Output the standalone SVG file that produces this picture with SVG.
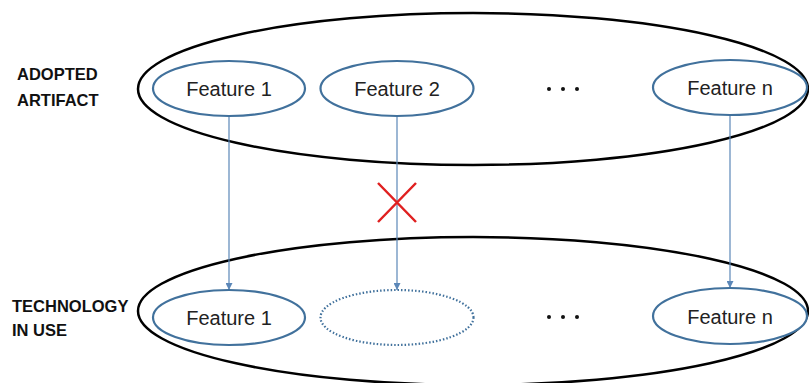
<svg xmlns="http://www.w3.org/2000/svg" width="809" height="383" viewBox="0 0 809 383">
<defs>
<style>
.big{fill:none;stroke:#000;stroke-width:2.5}
.feat{fill:#fff;stroke:#41719c;stroke-width:2.2}
.dotted{fill:#fff;stroke:#41719c;stroke-width:2.2;stroke-dasharray:1.5 2}
.ft{font-family:"Liberation Sans",Arial,sans-serif;font-size:20px;fill:#222;text-anchor:middle}
.lbl{font-family:"Liberation Sans",Arial,sans-serif;font-size:16.5px;font-weight:bold;fill:#111}
.conn{stroke:#5b87b8;stroke-width:1.2;fill:none}
.dot{fill:#111}
</style>
<marker id="arr" viewBox="0 0 10 10" refX="10" refY="5" markerWidth="7" markerHeight="7" markerUnits="userSpaceOnUse" orient="auto">
<path d="M0,0 L10,5 L0,10 z" fill="#5b87b8"/>
</marker>
</defs>
<rect width="809" height="383" fill="#fff"/>

<g id="labels">
<text class="lbl" x="17" y="80">ADOPTED</text>
<text class="lbl" x="17" y="106">ARTIFACT</text>
<text class="lbl" x="12" y="312">TECHNOLOGY</text>
<text class="lbl" x="12" y="336">IN USE</text>
</g>

<g id="adopted-artifact">
<ellipse class="big" cx="473" cy="89" rx="335" ry="76"/>
</g>
<g id="technology-in-use">
<ellipse class="big" cx="473" cy="311" rx="335" ry="74"/>
</g>

<g id="connectors">
<line class="conn" x1="229" y1="116" x2="229" y2="290" marker-end="url(#arr)"/>
<line class="conn" x1="397" y1="116" x2="397" y2="290" marker-end="url(#arr)"/>
<line class="conn" x1="730" y1="115" x2="730" y2="288" marker-end="url(#arr)"/>
</g>

<g id="cross">
<path d="M378,183 L416,222 M416,183 L378,222" stroke="#e02020" stroke-width="2.5" fill="none"/>
</g>

<g id="a-feature1">
<ellipse class="feat" cx="229" cy="88.5" rx="76" ry="27.5"/>
<text class="ft" x="229" y="96">Feature 1</text>
</g>
<g id="a-feature2">
<ellipse class="feat" cx="397" cy="88.5" rx="76.5" ry="27.5"/>
<text class="ft" x="397" y="96">Feature 2</text>
</g>
<g id="a-dots">
<circle class="dot" cx="549" cy="89" r="2"/>
<circle class="dot" cx="563" cy="89" r="2"/>
<circle class="dot" cx="577" cy="89" r="2"/>
</g>
<g id="a-featuren">
<ellipse class="feat" cx="730" cy="87.5" rx="77" ry="27.5"/>
<text class="ft" x="730" y="95">Feature n</text>
</g>

<g id="t-feature1">
<ellipse class="feat" cx="229" cy="317.5" rx="76" ry="27.5"/>
<text class="ft" x="229" y="325">Feature 1</text>
</g>
<g id="t-feature2-missing">
<ellipse class="dotted" cx="397" cy="317.5" rx="76.5" ry="27.5"/>
</g>
<g id="t-dots">
<circle class="dot" cx="549" cy="317" r="2"/>
<circle class="dot" cx="563" cy="317" r="2"/>
<circle class="dot" cx="577" cy="317" r="2"/>
</g>
<g id="t-featuren">
<ellipse class="feat" cx="730" cy="316" rx="77" ry="28"/>
<text class="ft" x="730" y="323.5">Feature n</text>
</g>
</svg>
